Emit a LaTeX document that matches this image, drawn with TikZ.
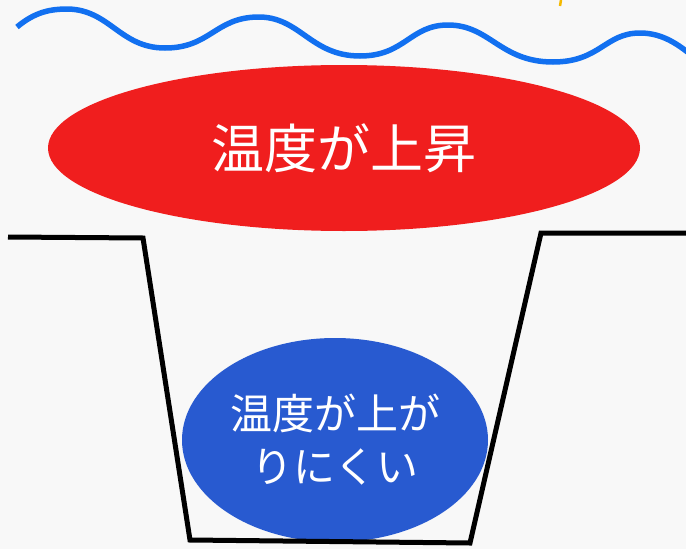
\documentclass[tikz,border=0pt]{standalone}
\usepackage{fontspec}
\newfontfamily\jp{Noto Sans CJK JP}
\definecolor{bg}{RGB}{248,248,248}
\definecolor{wave}{RGB}{18,112,240}
\definecolor{hot}{RGB}{240,30,30}
\definecolor{cold}{RGB}{40,90,208}
\definecolor{spark}{RGB}{245,185,0}
\usetikzlibrary{shapes.geometric}
\tikzset{
  blob/.style={ellipse, inner sep=0pt, text=white, align=center},
  rim/.style={line width=5pt, black, line join=miter},
}
\begin{document}
\begin{tikzpicture}[x=1pt,y=-1pt]
\fill[bg] (0,0) rectangle (686,549);
\useasboundingbox (0,0) rectangle (686,549);
% wave
\draw[wave, line width=5.5pt, line cap=butt]
  (17,27) .. controls (35,12) and (50,9) .. (68,9)
  .. controls (110,10) and (120,48) .. (165,48)
  .. controls (210,48) and (215,18) .. (257,17)
  .. controls (300,16) and (310,56) .. (360,56)
  .. controls (405,56) and (410,25) .. (448,25)
  .. controls (490,25) and (500,62) .. (553,62)
  .. controls (600,62) and (605,33) .. (640,33)
  .. controls (660,33) and (675,42) .. (690,54);
\draw[spark, line width=2.5pt] (561,0) -- (560,6);
% trough
\coordinate (t1) at (8,237);
\coordinate (t2) at (143,238);
\coordinate (t3) at (190,540);
\coordinate (t4) at (470,543);
\coordinate (t5) at (541,233);
\coordinate (t6) at (690,233);
\node[blob, fill=hot, minimum width=592, minimum height=166, font=\jp\fontsize{53}{60}\selectfont] (hot) at (344,148) {温度が上昇};
\node[blob, fill=cold, minimum width=306, minimum height=204, font=\jp\fontsize{42}{53}\selectfont] (cold) at (335,440) {温度が上が\\りにくい};
\draw[rim] (t1) -- (t2) -- (t3) -- (t4) -- (t5) -- (t6);
\end{tikzpicture}
\end{document}
